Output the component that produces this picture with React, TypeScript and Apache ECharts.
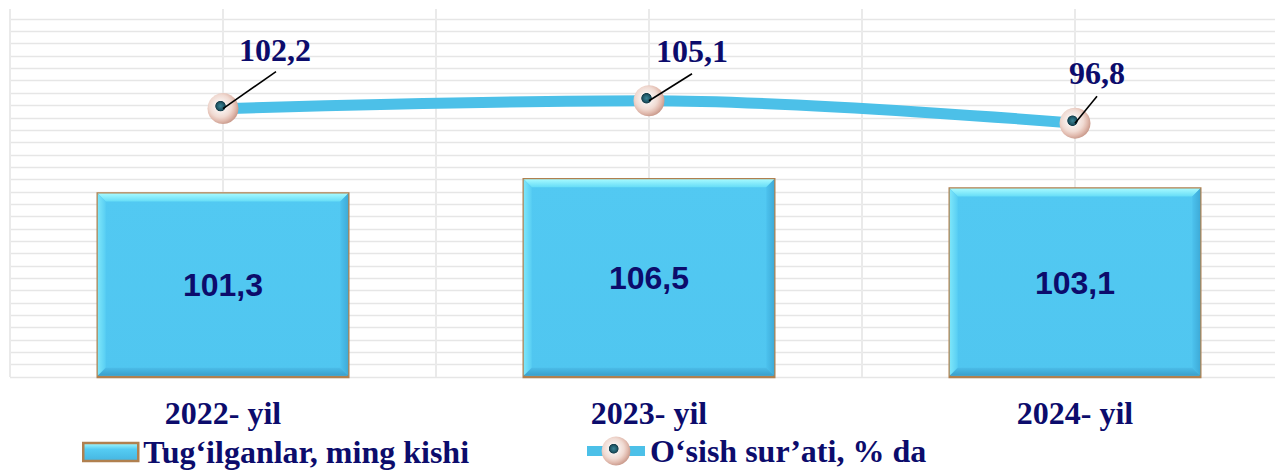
import React, { useEffect, useRef } from "react";
import * as echarts from "echarts";

const CATEGORIES = ["2022- yil", "2023- yil", "2024- yil"];
const BAR_NAME = "Tug\u2018ilganlar, ming kishi";
const LINE_NAME = "O\u2018sish sur\u2019ati, % da";
const BAR_VALUES = [101.3, 106.5, 103.1];
const LINE_VALUES = [102.2, 105.1, 96.8];

// label placement (styling, not data)
const LABEL_OFFSETS = [[52, -59], [43, -50], [22, -50]];
const LEADER_ENDS = [[53, -37], [43, -27], [22, -27]];
const BAR_WIDTH = 253;
const BEVEL = 8;

const NAVY = "#0C0C6C";
const SERIF = "Liberation Serif";
const fmt = (v: number) => v.toFixed(1).replace(".", ",");

export default function App() {
  const ref = useRef<HTMLDivElement>(null);
  useEffect(() => {
    document.body.style.margin = "0";
    document.body.style.overflow = "hidden";
    const chart = echarts.init(ref.current!, null, { renderer: "svg" });
    const markerColor = {
      type: "radial", x: 0.42, y: 0.42, r: 0.6,
      colorStops: [
        { offset: 0, color: "#3c8597" },
        { offset: 0.18, color: "#215b6b" },
        { offset: 0.26, color: "#173f4c" },
        { offset: 0.3, color: "#f8efec" },
        { offset: 0.6, color: "#f0dad2" },
        { offset: 0.8, color: "#e2bcb0" },
        { offset: 1, color: "#c99a8c" },
      ],
    };
    const barColor = {
      type: "linear", x: 0, y: 0, x2: 0, y2: 1,
      colorStops: [
        { offset: 0, color: "#52C9F2" },
        { offset: 1, color: "#50C6F0" },
      ],
    };
    const legendBarColor = {
      type: "linear", x: 0, y: 0, x2: 0, y2: 1,
      colorStops: [
        { offset: 0, color: "#A6FAFF" },
        { offset: 0.35, color: "#55CCF3" },
        { offset: 1, color: "#45B5E0" },
      ],
    };
    const lin = (x: number, y: number, x2: number, y2: number, a: string, b: string) => ({
      type: "linear", x, y, x2, y2,
      colorStops: [{ offset: 0, color: a }, { offset: 1, color: b }],
    });
    chart.setOption({
      animation: false,
      grid: [
        { left: 10, top: 9, width: 1278, height: 368 },
        { left: 10, top: 19, width: 1278, height: 358 },
      ],
      xAxis: [
        {
          type: "category", gridIndex: 0, data: CATEGORIES,
          axisLine: { show: false }, axisTick: { show: false },
          axisLabel: { margin: 20, color: NAVY, fontFamily: SERIF, fontWeight: "bold", fontSize: 32 },
        },
        {
          type: "value", gridIndex: 0, min: 0, max: 6, interval: 1,
          axisLine: { show: false }, axisTick: { show: false }, axisLabel: { show: false },
          splitLine: { show: true, lineStyle: { color: "#EAEAEA", width: 2 } },
        },
        { type: "value", gridIndex: 1, min: 0, max: 1, show: false },
      ],
      yAxis: [
        { type: "value", gridIndex: 0, min: 34, max: 168, show: false, splitLine: { show: false } },
        { type: "value", gridIndex: 0, min: 3, max: 139, show: false, splitLine: { show: false } },
        {
          type: "value", gridIndex: 1, min: 0, max: 29, interval: 1,
          axisLine: { show: false }, axisTick: { show: false }, axisLabel: { show: false },
          splitLine: { show: true, lineStyle: { color: "#E6E6E6", width: 1.3 } },
        },
      ],
      legend: [
        {
          data: [{ name: BAR_NAME, icon: "rect", itemStyle: { color: legendBarColor, borderColor: "#B0804F", borderWidth: 2.5 } }],
          left: 82, top: 436, padding: 0,
          itemWidth: 55, itemHeight: 18, itemGap: 0,
          textStyle: { color: NAVY, fontFamily: SERIF, fontWeight: "bold", fontSize: 32 },
        },
        {
          data: [LINE_NAME], left: 582, top: 435, padding: 0,
          itemWidth: 58, itemHeight: 36, itemGap: 0,
          lineStyle: { width: 10 },
          textStyle: { color: NAVY, fontFamily: SERIF, fontWeight: "bold", fontSize: 32, padding: [0, 0, 12, 0] },
        },
      ],
      series: [
        {
          name: BAR_NAME, type: "bar", xAxisIndex: 0, yAxisIndex: 0,
          data: BAR_VALUES, barWidth: BAR_WIDTH, z: 2,
          itemStyle: { color: barColor, borderColor: "#B0804F", borderWidth: 2.5 },
          label: {
            show: true, position: "inside", formatter: (p: any) => fmt(p.value),
            color: NAVY, fontFamily: "Liberation Sans", fontWeight: "bold", fontSize: 32,
          },
        },
        {
          type: "custom", xAxisIndex: 0, yAxisIndex: 0, z: 2.5, silent: true,
          data: BAR_VALUES.map((v, i) => [i, v]),
          renderItem: (params: any, api: any) => {
            const top = api.coord([api.value(0), api.value(1)]);
            const cs = params.coordSys;
            const bottom = cs.y + cs.height;
            const inset = 1.25;
            const x0 = top[0] - BAR_WIDTH / 2 + inset;
            const x1 = top[0] + BAR_WIDTH / 2 - inset;
            const y0 = top[1] + inset;
            const y1 = bottom - inset;
            const b = BEVEL;
            return {
              type: "group",
              children: [
                {
                  type: "polygon",
                  shape: { points: [[x0, y0], [x1, y0], [x1 - b, y0 + b], [x0 + b, y0 + b]] },
                  style: { fill: lin(0, 0, 0, 1, "#A6FAFF", "#66DDF7") },
                },
                {
                  type: "polygon",
                  shape: { points: [[x0, y0], [x0 + b, y0 + b], [x0 + b, y1 - b], [x0, y1]] },
                  style: { fill: lin(0, 0, 1, 0, "#7DE6FA", "#58CEF3") },
                },
                {
                  type: "polygon",
                  shape: { points: [[x1, y0], [x1, y1], [x1 - b, y1 - b], [x1 - b, y0 + b]] },
                  style: { fill: lin(0, 0, 1, 0, "#4CC2EE", "#3EABD8") },
                },
                {
                  type: "polygon",
                  shape: { points: [[x0, y1], [x0 + b, y1 - b], [x1 - b, y1 - b], [x1, y1]] },
                  style: { fill: lin(0, 0, 0, 1, "#4BBCE8", "#3A9FCB") },
                },
              ],
            };
          },
        },
        {
          name: LINE_NAME, type: "line", xAxisIndex: 0, yAxisIndex: 1,
          smooth: 0.35, z: 3,
          data: LINE_VALUES.map((v, i) => ({ value: v, label: { offset: LABEL_OFFSETS[i] } })),
          lineStyle: { color: "#4CC0E8", width: 11 },
          itemStyle: { color: markerColor, borderWidth: 0 },
          symbol: "circle", symbolSize: 31,
          label: {
            show: true, position: "inside", formatter: (p: any) => fmt(p.value),
            color: NAVY, fontFamily: SERIF, fontWeight: "bold", fontSize: 32,
          },
        },
        {
          type: "custom", xAxisIndex: 0, yAxisIndex: 1, z: 5, silent: true,
          data: LINE_VALUES.map((v, i) => [i, v]),
          renderItem: (params: any, api: any) => {
            const p = api.coord([api.value(0), api.value(1)]);
            const d = LEADER_ENDS[params.dataIndex];
            return {
              type: "line",
              shape: { x1: p[0], y1: p[1], x2: p[0] + d[0], y2: p[1] + d[1] },
              style: { stroke: "#000", lineWidth: 1.6 },
            };
          },
        },
      ],
    });
    return () => chart.dispose();
  }, []);
  return (
    <div style={{ width: 1275, height: 470, overflow: "hidden", position: "relative" }}>
      <div ref={ref} style={{ width: 1300, height: 470 }} />
    </div>
  );
}
